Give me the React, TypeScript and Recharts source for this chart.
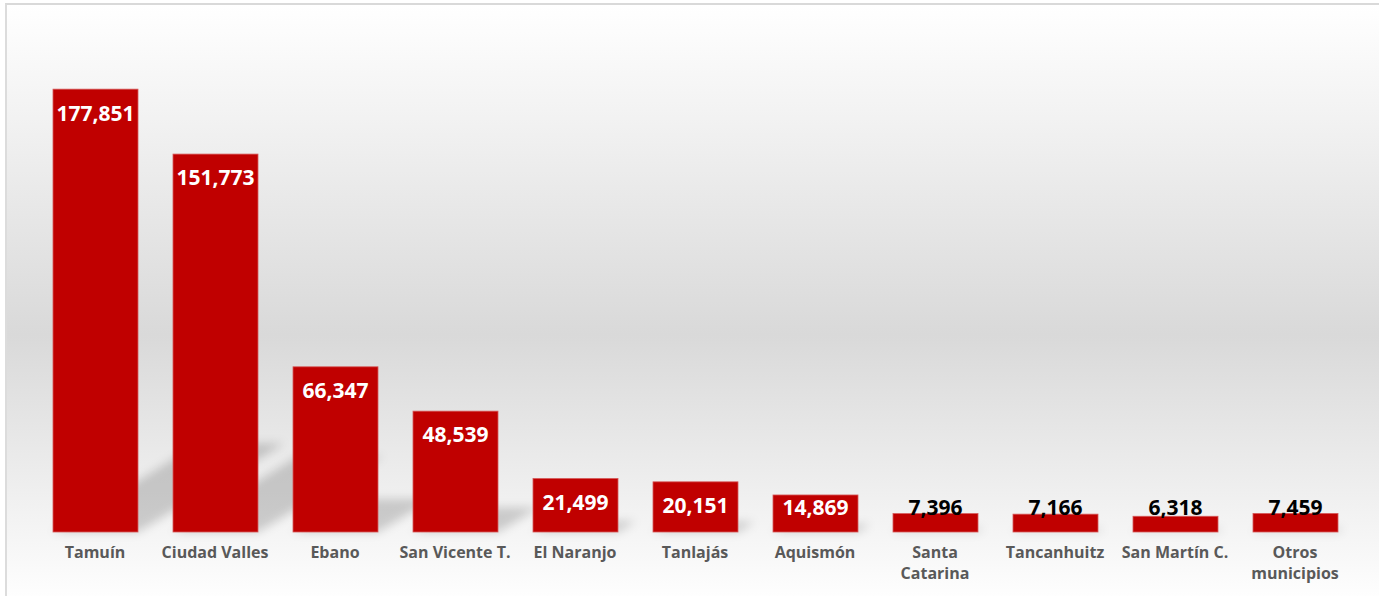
import { BarChart, Bar, XAxis, YAxis, LabelList } from "recharts";

const categories = [
  "Tamuín",
  "Ciudad Valles",
  "Ebano",
  "San Vicente T.",
  "El Naranjo",
  "Tanlajás",
  "Aquismón",
  "Santa\nCatarina",
  "Tancanhuitz",
  "San Martín C.",
  "Otros\nmunicipios",
];
const values = [177851, 151773, 66347, 48539, 21499, 20151, 14869, 7396, 7166, 6318, 7459];

const data = categories.map((name, i) => ({ name, value: values[i] }));

const FONT = "'Open Sans', sans-serif";
const BAR_RED = "#C00000";

// bar with a soft slanted shadow falling to the upper right
function ShadowBar(props: any) {
  const { x, y, width, height } = props;
  const bottom = y + height;
  const rise = height * 0.2;
  const dx = height * 0.33;
  const pts = `${x},${bottom} ${x + width},${bottom} ${x + width + dx},${bottom - rise} ${x + dx},${bottom - rise}`;
  return (
    <g>
      <polygon points={pts} fill="rgba(0,0,0,0.17)" style={{ filter: "blur(5px)" }} />
      <rect x={x} y={y} width={width} height={height} fill={BAR_RED} stroke="#d65a5a" strokeWidth={0.8} />
    </g>
  );
}

function ValueLabel(props: any) {
  const { x, y, width, height, value } = props;
  const bottom = y + height;
  const cy = Math.min(y + 24, bottom - 24);
  const inside = height >= 30;
  return (
    <text
      x={x + width / 2}
      y={cy}
      dy="0.35em"
      textAnchor="middle"
      fill={inside ? "#ffffff" : "#000000"}
      fontSize={21}
      fontWeight={700}
      fontFamily={FONT}
    >
      {Number(value).toLocaleString("en-US")}
    </text>
  );
}

function CategoryTick(props: any) {
  const { x, y, payload } = props;
  const lines = String(payload.value).split("\n");
  return (
    <text x={x} y={y} textAnchor="middle" fill="#595959" fontSize={16} fontWeight={700} fontFamily={FONT}>
      {lines.map((l, i) => (
        <tspan key={i} x={x} dy={i === 0 ? 26 : 21}>
          {l}
        </tspan>
      ))}
    </text>
  );
}

export default function App() {
  return (
    <div
      style={{
        position: "absolute",
        left: 5,
        top: 3,
        width: 1380,
        height: 600,
        borderTop: "2px solid #d9d9d9",
        borderLeft: "2px solid #dcdcdc",
        background: "linear-gradient(to bottom, #ffffff 0%, #d9d9d9 55%, #ffffff 100%)",
        overflow: "hidden",
      }}
    >
      <BarChart
        width={1372}
        height={591}
        data={data}
        margin={{ top: 29, right: 24, bottom: 0, left: 28 }}
        barSize={85}
      >
        <XAxis
          dataKey="name"
          axisLine={false}
          tickLine={false}
          tickSize={0}
          tickMargin={0}
          interval={0}
          height={64}
          tick={<CategoryTick />}
        />
        <YAxis hide domain={[0, 200000]} />
        <Bar dataKey="value" fill={BAR_RED} shape={<ShadowBar />} isAnimationActive={false}>
          <LabelList dataKey="value" content={<ValueLabel />} />
        </Bar>
      </BarChart>
    </div>
  );
}
